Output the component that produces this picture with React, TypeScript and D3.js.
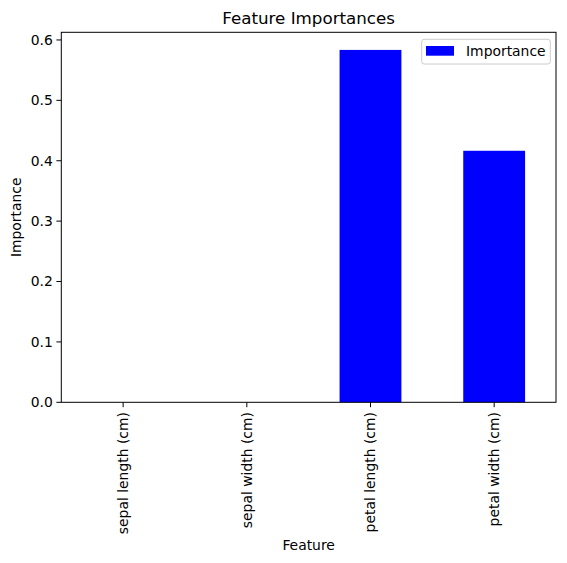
import React, { useEffect, useRef } from 'react';
import * as d3 from 'd3';

const features = ['sepal length (cm)', 'sepal width (cm)', 'petal length (cm)', 'petal width (cm)'];
const importances = [0, 0, 0.5835, 0.4165];
const yTicks = [0, 0.1, 0.2, 0.3, 0.4, 0.5, 0.6];

const App: React.FC = () => {
    const svgRef = useRef<SVGSVGElement>(null);

    useEffect(() => {
        if (!svgRef.current) return;
        const width = 567;
        const height = 563;
        const svg = d3.select(svgRef.current)
            .attr('width', width)
            .attr('height', height);
        svg.selectAll('*').remove();

        const font = 'DejaVu Sans, sans-serif';
        const left = 61.3, right = 556, top = 32.3, bottom = 402.3;

        const x = d3.scaleLinear().domain([-0.5, features.length - 0.5]).range([left, right]);
        const yMax = (d3.max(importances) ?? 1) * 1.05;
        const y = d3.scaleLinear().domain([0, yMax]).range([bottom, top]);

        svg.append('rect').attr('width', width).attr('height', height).attr('fill', '#fff');

        // Bars
        svg.selectAll('.bar')
            .data(importances)
            .enter()
            .append('rect')
            .attr('x', (_, i) => x(i - 0.25))
            .attr('width', x(0.25) - x(-0.25))
            .attr('y', d => y(d))
            .attr('height', d => y(0) - y(d))
            .attr('fill', '#0000ff');

        // Frame
        svg.append('rect')
            .attr('x', left).attr('y', top)
            .attr('width', right - left).attr('height', bottom - top)
            .attr('fill', 'none').attr('stroke', '#000').attr('stroke-width', 1);

        // Y ticks
        const yt = svg.selectAll('.yt').data(yTicks).enter().append('g');
        yt.append('line')
            .attr('x1', left - 4.9).attr('x2', left)
            .attr('y1', d => y(d)).attr('y2', d => y(d))
            .attr('stroke', '#000');
        yt.append('text')
            .attr('x', left - 8.5)
            .attr('y', d => y(d))
            .attr('dy', '0.35em')
            .attr('text-anchor', 'end')
            .attr('font-family', font)
            .attr('font-size', '13.9px')
            .attr('fill', '#000')
            .text(d => d.toFixed(1));

        // X ticks
        const xt = svg.selectAll('.xt').data(features).enter().append('g');
        xt.append('line')
            .attr('x1', (_, i) => x(i)).attr('x2', (_, i) => x(i))
            .attr('y1', bottom).attr('y2', bottom + 4.9)
            .attr('stroke', '#000');
        xt.append('text')
            .attr('transform', (_, i) => `translate(${x(i)},${bottom + 9.8}) rotate(-90)`)
            .attr('dy', '0.35em')
            .attr('text-anchor', 'end')
            .attr('font-family', font)
            .attr('font-size', '13.9px')
            .attr('fill', '#000')
            .text(d => d);

        // Title and axis labels
        svg.append('text')
            .attr('x', (left + right) / 2).attr('y', 23.5)
            .attr('text-anchor', 'middle')
            .attr('font-family', font).attr('font-size', '16.7px')
            .text('Feature Importances');
        svg.append('text')
            .attr('x', (left + right) / 2).attr('y', 550)
            .attr('text-anchor', 'middle')
            .attr('font-family', font).attr('font-size', '13.9px')
            .text('Feature');
        svg.append('text')
            .attr('transform', `translate(21,${(top + bottom) / 2}) rotate(-90)`)
            .attr('text-anchor', 'middle')
            .attr('font-family', font).attr('font-size', '13.9px')
            .text('Importance');

        // Legend
        const lg = svg.append('g');
        lg.append('rect')
            .attr('x', 421.7).attr('y', 39.3).attr('width', 128.6).attr('height', 24.7)
            .attr('rx', 2.5)
            .attr('fill', '#fff').attr('fill-opacity', 0.8)
            .attr('stroke', '#cccccc').attr('stroke-width', 1);
        lg.append('rect')
            .attr('x', 426).attr('y', 46).attr('width', 28).attr('height', 9.7)
            .attr('fill', '#0000ff');
        lg.append('text')
            .attr('x', 466).attr('y', 51)
            .attr('dy', '0.35em')
            .attr('font-family', font).attr('font-size', '13.9px')
            .text('Importance');
    }, []);

    return <svg ref={svgRef} style={{ display: 'block', position: 'absolute', left: 0, top: 0 }} />;
};

export default App;
